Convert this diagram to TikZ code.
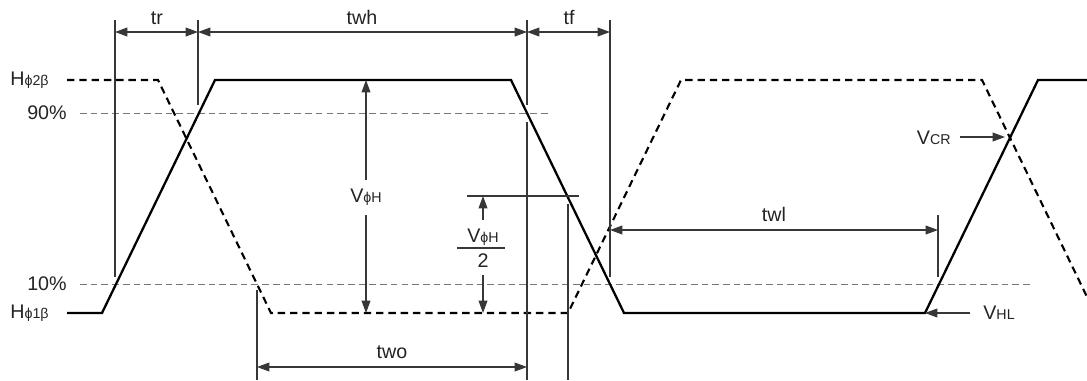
\documentclass[tikz,border=0pt]{standalone}
\usepackage{fontspec}
\setmainfont{Liberation Sans}
\usepackage{tikz}
\usetikzlibrary{arrows.meta}
\definecolor{dimgray}{RGB}{55,55,55}
\definecolor{guidegray}{RGB}{120,120,120}
\definecolor{txtgray}{RGB}{35,35,35}
\newcommand{\subtxt}[1]{{\fontsize{8.1}{9}\selectfont #1}}

\begin{document}
\begin{tikzpicture}[x=0.02cm, y=-0.02cm,
    every node/.style={font=\fontsize{11.2}{13}\selectfont, text=txtgray, inner sep=0pt},
    >={Triangle[length=7pt,width=5pt]},
    wave/.style={line width=1.3pt, black, line join=miter},
    wavedash/.style={wave, line width=1.2pt, dash pattern=on 4.2pt off 2.8pt},
    guide/.style={guidegray, line width=0.5pt, dash pattern=on 3.8pt off 2.3pt},
    extline/.style={dimgray, line width=0.6pt},
    dimarrow/.style={dimgray, line width=0.6pt}]
                \useasboundingbox (0,0) rectangle (1087,380);

                % Level guides
                \draw[guide] (80,113) -- (548,113);
                \draw[guide] (80,284) -- (1032,284);

                % Clock waveforms
                \coordinate (s0) at (67,313);  \coordinate (s1) at (102,313);
                \coordinate (s2) at (215,80);  \coordinate (s3) at (511,80);
                \coordinate (s4) at (624,313); \coordinate (s5) at (925,313);
                \coordinate (s6) at (1038,80); \coordinate (s7) at (1090,80);
                \coordinate (d0) at (67,80);   \coordinate (d1) at (158,80);
                \coordinate (d2) at (271,313); \coordinate (d3) at (568,313);
                \coordinate (d4) at (681,80);  \coordinate (d5) at (982,80);
                \coordinate (d6) at (1089,301);
                \draw[wave] (s0) -- (s1) -- (s2) -- (s3) -- (s4) -- (s5) -- (s6) -- (s7);
                \draw[wavedash] (d0) -- (d1) -- (d2) -- (d3) -- (d4) -- (d5) -- (d6);

                % Level labels
                \node[anchor=west] (hhi) at (10,80) {H\subtxt{ϕ2β}};
                \node[anchor=east] (p90) at (67,113) {90\%};
                \node[anchor=east] (p10) at (67,284) {10\%};
                \node[anchor=west] (hlo) at (10,313) {H\subtxt{ϕ1β}};

                % Extension lines
                \coordinate (e1a) at (115,20);  \coordinate (e1b) at (115,277);
                \coordinate (e2a) at (198,20);  \coordinate (e2b) at (198,105);
                \coordinate (e3a) at (527,20);  \coordinate (e3b) at (527,105);
                \coordinate (e3c) at (527,122); \coordinate (e3d) at (527,380);
                \coordinate (e4a) at (610,20);  \coordinate (e4b) at (610,277);
                \coordinate (e5a) at (257,290); \coordinate (e5b) at (257,380);
                \coordinate (e6a) at (568,204); \coordinate (e6b) at (568,380);
                \coordinate (e7a) at (938,215); \coordinate (e7b) at (938,277);
                \foreach \a/\b in {e1a/e1b, e2a/e2b, e3a/e3b, e3c/e3d, e4a/e4b, e5a/e5b, e6a/e6b, e7a/e7b}
                    \draw[extline] (\a) -- (\b);

                % Timing arrows
                \draw[dimarrow, <->] (e1a |- 0,32) -- (e2a |- 0,32);
                \draw[dimarrow, <->] (e2a |- 0,32) -- (e3a |- 0,32);
                \draw[dimarrow, <->] (e3a |- 0,32) -- (e4a |- 0,32);
                \draw[dimarrow, <->] (e5a |- 0,367) -- (e3a |- 0,367);
                \draw[dimarrow, <->] (e4a |- 0,230) -- (e7a |- 0,230);
                \node[anchor=base] (tr) at (157,24) {tr};
                \node[anchor=base] (twh) at (362,24) {twh};
                \node[anchor=base] (tf) at (569,24) {tf};
                \node[anchor=base] (two) at (392,358) {two};
                \node[anchor=base] (twl) at (774,221) {twl};

                % Amplitude
                \node (vh) at (366,197) {V\subtxt{ϕH}};
                \draw[dimarrow, ->] (366,180) -- (vh |- s2);
                \draw[dimarrow, ->] (366,215) -- (vh |- s1);

                % Half amplitude
                \coordinate (mida) at (467,196); \coordinate (midb) at (579,196);
                \draw[extline] (mida) -- (midb);
                \node (vhn) at (483,237) {V\subtxt{ϕH}};
                \draw[dimgray, line width=0.6pt] (457,248) -- (505,248);
                \node (vhd) at (483,261) {2};
                \draw[dimarrow, ->] (483,220) -- (vhn |- mida);
                \draw[dimarrow, ->] (483,275) -- (vhn |- s1);

                % Crossing and low level
                \node[anchor=east] (vcr) at (951,138) {V\subtxt{CR}};
                \draw[dimarrow, ->] (960,137) -- (1005,137);
                \node[anchor=west] (vhl) at (983,313) {V\subtxt{HL}};
                \draw[dimarrow, ->] (970,313) -- (s5);
\end{tikzpicture}
\end{document}
